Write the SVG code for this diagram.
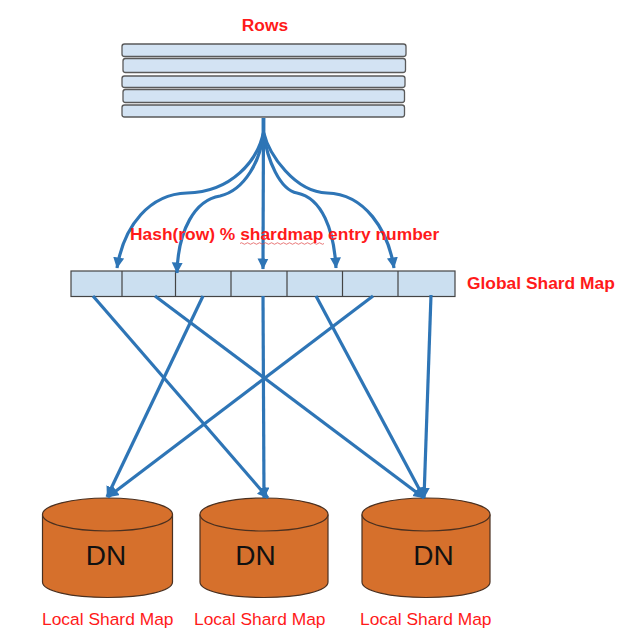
<svg xmlns="http://www.w3.org/2000/svg" width="633" height="644" viewBox="0 0 633 644">
<defs>
<marker id="ah" markerUnits="userSpaceOnUse" markerWidth="12" markerHeight="12" refX="10.500" refY="5.500" orient="auto"><path d="M0,0 L11,5.500 L0,11 Z" fill="#2e75b6"/></marker>
</defs>
<style>
.row{fill:#d3e3f3;stroke:#5a5a5a;stroke-width:1.3}
.cell{fill:#cbdff0;stroke:#444;stroke-width:1.2}
.con{fill:none;stroke:#2e75b6;stroke-width:3.2;marker-end:url(#ah)}
.db{fill:#d6702c;stroke:#4a3020;stroke-width:1.2}
.red{font-family:"Liberation Sans",Arial,sans-serif;fill:#ff1a1a;font-size:17.4px}
.b{font-weight:bold}
.dn{font-family:"Liberation Sans",Arial,sans-serif;font-size:28px;fill:#111;text-anchor:middle}
</style>
<rect width="633" height="644" fill="#fff"/>
<g id="rows">
<rect class="row" x="122" y="44" width="284" height="12.5" rx="2.5"/>
<rect class="row" x="123" y="58.5" width="282.5" height="14" rx="2.5"/>
<rect class="row" x="122" y="76" width="283" height="11.5" rx="2.5"/>
<rect class="row" x="123" y="89.5" width="281.5" height="13" rx="2.5"/>
<rect class="row" x="122" y="105" width="282.5" height="12" rx="2.5"/>
<text class="red b" x="265" y="31" text-anchor="middle">Rows</text>
</g>
<g id="global-shard-map">
<rect class="cell" x="71" y="271" width="384" height="25.5"/>
<path d="M122 271V296.5M175.5 271V296.5M231 271V296.5M287 271V296.5M342.5 271V296.5M398 271V296.5" fill="none" stroke="#444" stroke-width="1.2"/>
<text class="red b" x="467" y="289">Global Shard Map</text>
</g>
<g id="dn1">
<path class="db" d="M42.500 514.500V582C42.500 591 71 597.500 107.500 597.500S172.500 591 172.500 582V514.500"/>
<ellipse class="db" cx="107.500" cy="514.500" rx="65" ry="16.500"/>
<text class="dn" x="106" y="565">DN</text>
<text class="red" x="42" y="625">Local Shard Map</text>
</g>
<g id="dn2">
<path class="db" d="M200 514.500V582C200 591 228 597.500 264 597.500S328 591 328 582V514.500"/>
<ellipse class="db" cx="264" cy="514.500" rx="64" ry="16.500"/>
<text class="dn" x="255.500" y="565">DN</text>
<text class="red" x="194" y="625">Local Shard Map</text>
</g>
<g id="dn3">
<path class="db" d="M362 514.500V582C362 591 390 597.500 426 597.500S490 591 490 582V514.500"/>
<ellipse class="db" cx="426" cy="514.500" rx="64" ry="16.500"/>
<text class="dn" x="433.500" y="565">DN</text>
<text class="red" x="360" y="625">Local Shard Map</text>
</g>
<g id="connectors">
<path class="con" d="M263.500 118V132C258 160 232 192 187 193C150 194 124 225 117 268"/>
<path class="con" d="M263.500 118V132C261 160 245 190 220 196C195 200 178 230 177 273"/>
<path class="con" d="M263.500 118L263 269"/>
<path class="con" d="M263.500 118V132C267 160 280 190 297 193C322 198 334 230 336 268"/>
<path class="con" d="M263.500 118V132C269 155 295 192 327 193C365 194 388 230 394 268"/>
<path class="con" d="M93 296L268 498"/>
<path class="con" d="M155 296L424 498"/>
<path class="con" d="M203 296L107 497"/>
<path class="con" d="M263 296L264 498"/>
<path class="con" d="M316 296L424 498"/>
<path class="con" d="M373 296L108 497"/>
<path class="con" d="M431 295L424 498"/>
</g>
<text class="red b" x="130" y="240" id="hash-label">Hash(row) % shardmap entry number</text>
<path id="spell-underline" d="M240 243.500q1.500 -1.500 3 0t3 0t3 0t3 0t3 0t3 0t3 0t3 0t3 0t3 0t3 0t3 0t3 0t3 0t3 0t3 0t3 0t3 0t3 0t3 0t3 0t3 0t3 0t3 0t3 0t3 0t3 0t3 0" fill="none" stroke="#e04040" stroke-width="0.7"/>
</svg>
